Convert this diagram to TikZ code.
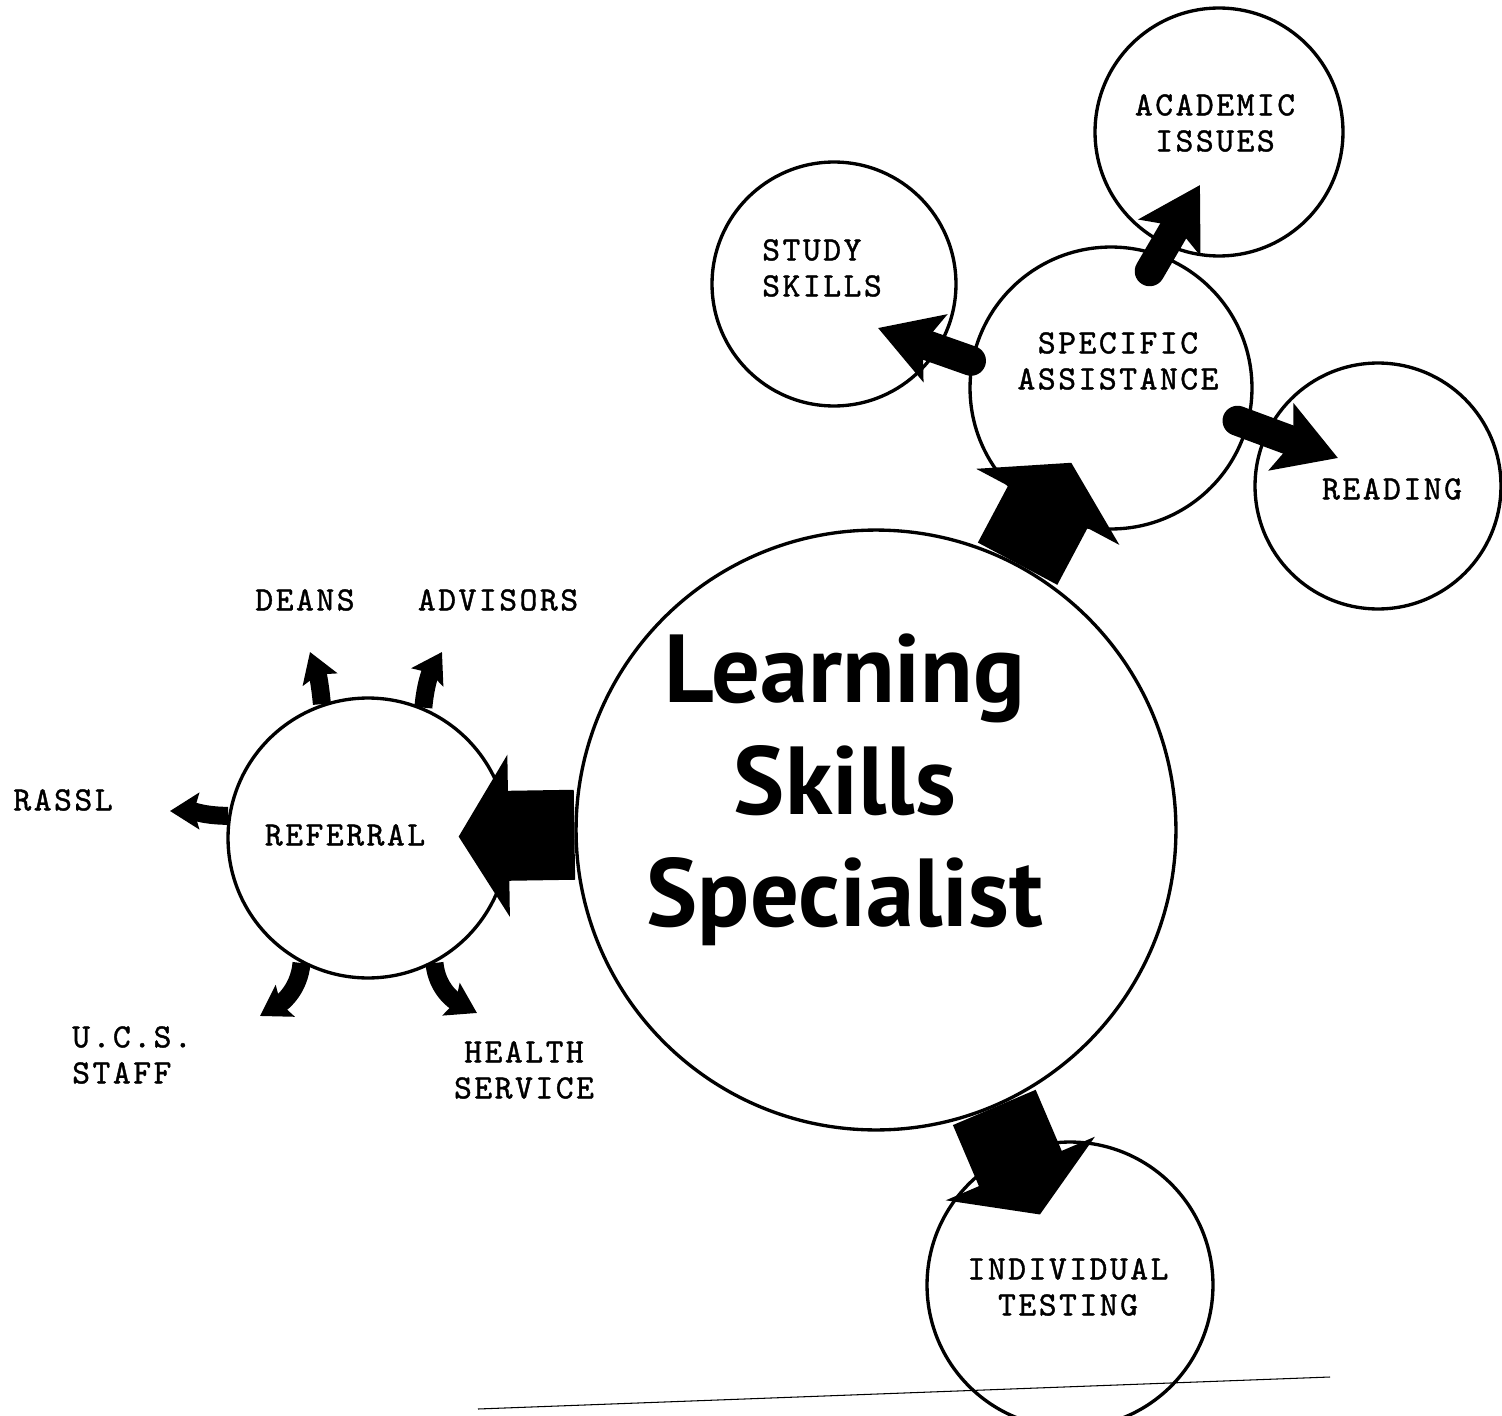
\documentclass[tikz,border=0pt]{standalone}
\usepackage{fontspec}
\newfontfamily\signfont{PT Sans}
\newfontfamily\typefont{lmmono10-regular.otf}[LetterSpace=7.5, FakeBold=1.2]
\usetikzlibrary{arrows.meta}

\begin{document}
\begin{tikzpicture}[
    x=0.02cm, y=-0.02cm,
    bubble/.style={draw, circle, line width=1.9pt, inner sep=0pt},
    tag/.style={font=\typefont\fontsize{19.3}{20.5}\selectfont, align=center, inner sep=0pt},
    bigarrow/.style={line width=1.8cm, -{Triangle[width=3.2cm, length=1cm]}},
    midarrow/.style={line width=0.6cm, line cap=round, -{Stealth[width=1.4cm, length=1.2cm, inset=0.25cm]}},
    sprout/.style={line width=0.36cm, -{Stealth[width=0.72cm, length=0.58cm, inset=0.1cm]}},
]
\useasboundingbox (0,0) rectangle (1502,1416);

% circles
\node[bubble, minimum size=12cm] (specialist) at (876,830) {};
\node[bubble, minimum size=5.6cm] (referral) at (368,838) {};
\node[bubble, minimum size=5.64cm] (assistance) at (1111,388) {};
\node[bubble, minimum size=4.88cm] (study) at (834,284) {};
\node[bubble, minimum size=4.96cm] (academic) at (1219,132) {};
\node[bubble, minimum size=4.92cm] (reading) at (1378,486) {};
\node[bubble, minimum size=5.72cm] (testing) at (1070,1285) {};

% texts
\node[font=\signfont\fontsize{55}{63.6}\selectfont\bfseries, align=center, inner sep=0pt] (lss) at (845,790) {Learning\\Skills\\Specialist};
\node[tag] (referraltext) at (345,835) {REFERRAL};
\node[tag] (assisttext) at (1118,361) {SPECIFIC\\ASSISTANCE};
\node[tag, align=left] (studytext) at (822,268) {STUDY\\SKILLS};
\node[tag] (academictext) at (1215,123) {ACADEMIC\\ISSUES};
\node[tag] (readingtext) at (1392,489) {READING};
\node[tag] (testingtext) at (1068,1287) {INDIVIDUAL\\TESTING};
\node[tag] (deans) at (305,600) {DEANS};
\node[tag] (advisors) at (498,600) {ADVISORS};
\node[tag] (rassl) at (63,800) {RASSL};
\node[tag, align=left] (ucs) at (132,1055) {U.C.S.\\STAFF};
\node[tag] (health) at (524,1070) {HEALTH\\SERVICE};

% arrow ends
\coordinate (studytip) at (878,328);
\coordinate (academictip) at (1200,185);
\coordinate (readingtip) at (1338,458);
\coordinate (deanstip) at (310,652);
\coordinate (advisorstip) at (442,652);
\coordinate (rassltip) at (170,811);
\coordinate (ucstip) at (260,1016);
\coordinate (healthtip) at (477,1013);

% big arrows out of the specialist
\draw[bigarrow, shorten >=-1.02cm] (specialist) -- (referral);
\draw[bigarrow, shorten >=-1.16cm] (specialist) -- (assistance);
\draw[bigarrow, shorten >=-1.36cm] (specialist) -- (testing);

% specific assistance
\draw[midarrow] (assistance.169) -- (studytip);
\draw[midarrow, shorten <=-0.4cm] (assistance.70) -- (academictip);
\draw[midarrow, shorten <=-0.24cm] (assistance.-15) -- (readingtip);

% referral sprouts
\draw[sprout] (referral.109) to[out=95, in=-70] (deanstip);
\draw[sprout] (referral.67) to[out=85, in=-120] (advisorstip);
\draw[sprout] (referral.171) to[out=180, in=0] (rassltip);
\draw[sprout] (referral.-118) to[out=-95, in=31] (ucstip);
\draw[sprout] (referral.-62) to[out=-85, in=152] (healthtip);

\draw[line width=0.6pt] (478,1409) -- (1330,1377);
\end{tikzpicture}
\end{document}
